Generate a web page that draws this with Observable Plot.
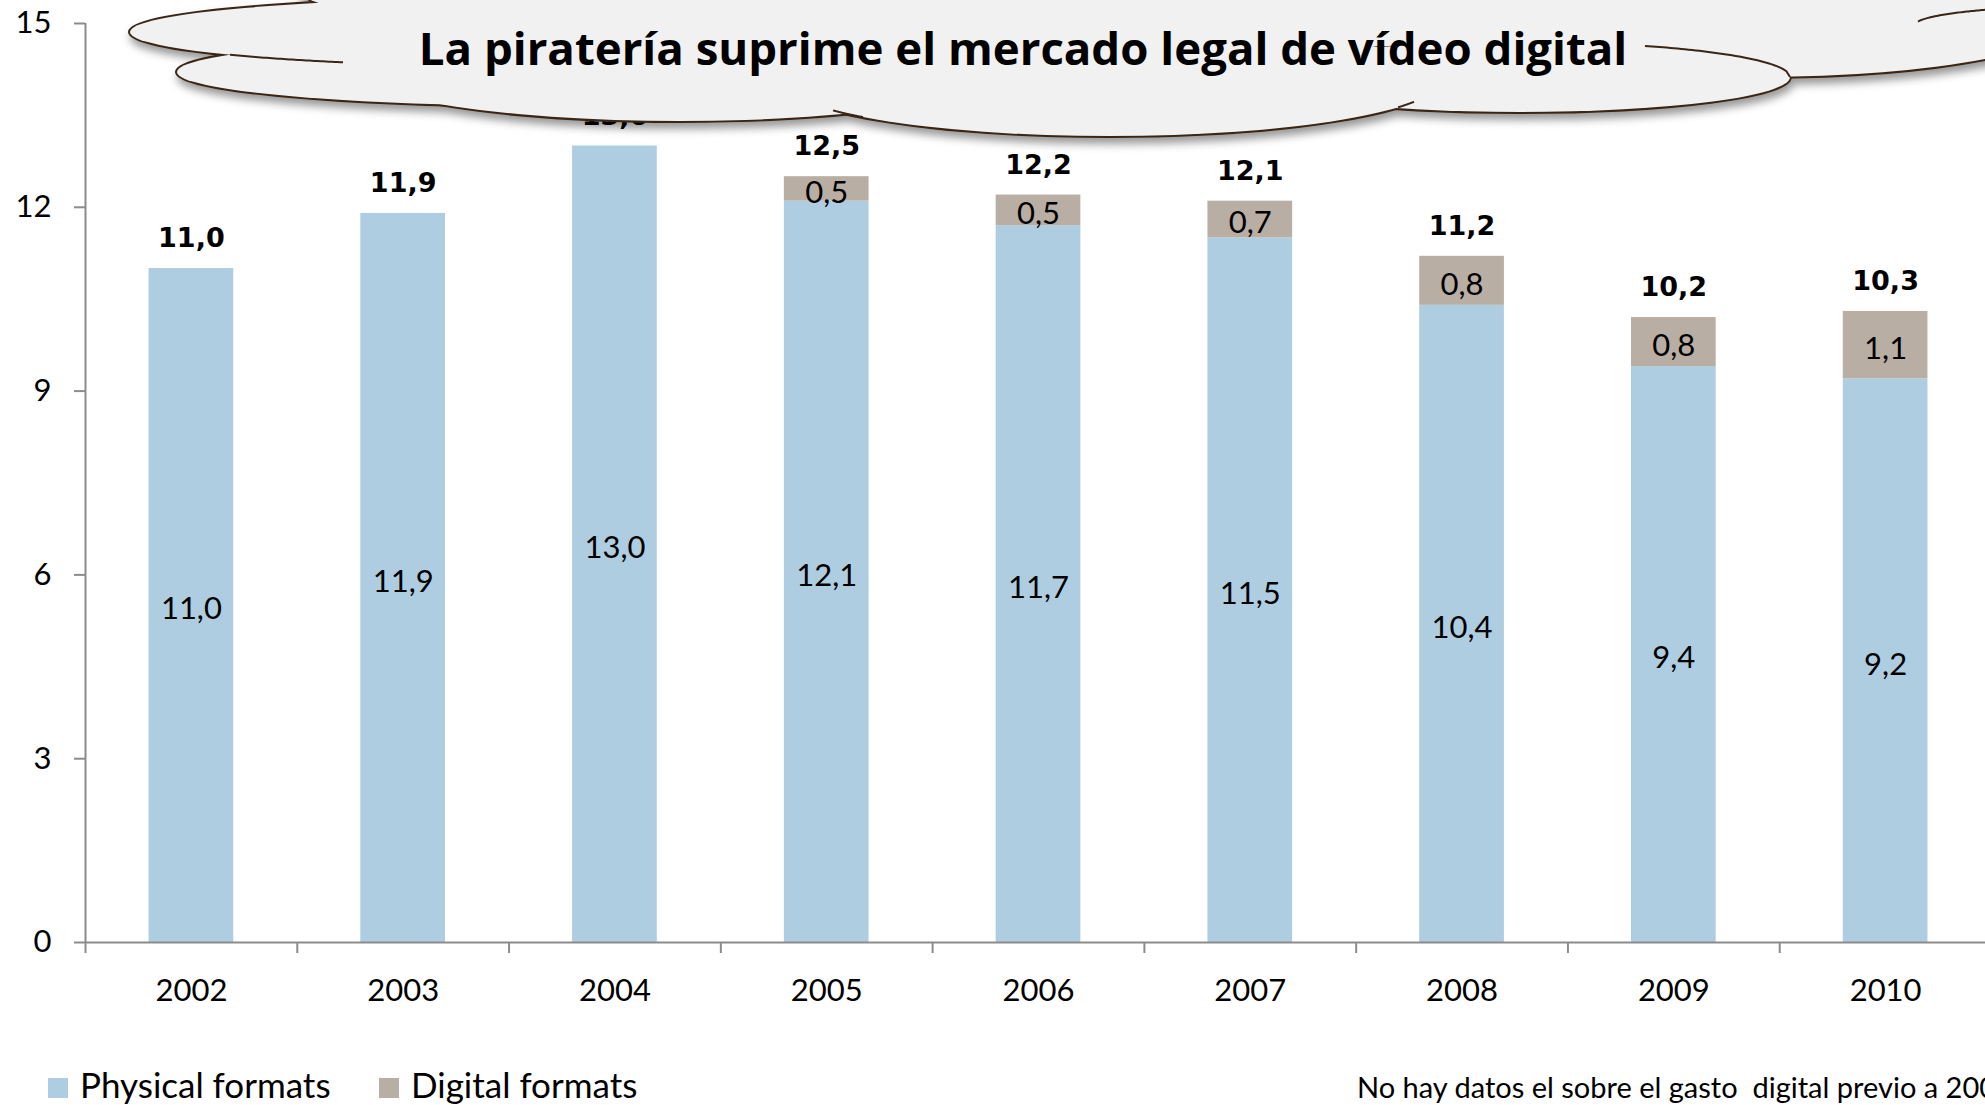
<!DOCTYPE html>
<html><head><meta charset="utf-8">
<script src="https://cdn.jsdelivr.net/npm/d3@7"></script>
<script src="https://cdn.jsdelivr.net/npm/@observablehq/plot@0.6"></script>
<style>
html,body{margin:0;padding:0;background:#fff;}
#wrap{position:relative;width:1985px;height:1105px;overflow:hidden;background:#fff;}
#wrap > *{position:absolute;left:0;}
</style></head><body><div id="wrap"></div>
<script>
// ---- data ----
const years = ["2002","2003","2004","2005","2006","2007","2008","2009","2010"];
const physical = [11.0, 11.9, 13.0, 12.1, 11.7, 11.5, 10.4, 9.4, 9.2];
const digital  = [null, null, null, 0.5, 0.5, 0.7, 0.8, 0.8, 1.1];
const totals   = [11.0, 11.9, 13.0, 12.5, 12.2, 12.1, 11.2, 10.2, 10.3];
const yTicks = [0, 3, 6, 9, 12, 15];
const seriesNames = ["Physical formats", "Digital formats"];
const seriesColors = ["#aecde0", "#b9aea3"];
const title = "La piratería suprime el mercado legal de vídeo digital";
const note = "No hay datos el sobre el gasto  digital previo a 2005";

const rows = years.map((year, i) => ({year, physical: physical[i], digital: digital[i], total: totals[i]}));
const digRows = rows.filter(d => d.digital != null);
const fmt = v => v.toFixed(1).replace(".", ",");

const W = 1985, H = 1022, mL = 85, mT = 23, mB = 80;
const xEnd = 1991;
const halfStep = (xEnd - mL) / years.length / 2;
const axisGrey = "#8c8c8c";
const wrap = document.getElementById("wrap");

const chart = Plot.plot({
  width: W, height: H, marginLeft: mL, marginRight: 0, marginTop: mT, marginBottom: mB,
  style: {fontFamily: "Lato", fontSize: "31px", color: "black", background: "white", overflow: "visible"},
  x: {domain: years, range: [mL, xEnd], paddingInner: 0.6, paddingOuter: 0.3, round: false, axis: null},
  y: {domain: [0, 15], axis: null},
  marks: [
    Plot.barY(rows, {x: "year", y1: 0, y2: "physical", fill: seriesColors[0]}),
    Plot.barY(digRows, {x: "year", y1: "physical", y2: "total", fill: seriesColors[1]}),
    Plot.ruleY([0], {stroke: axisGrey, strokeWidth: 2}),
    Plot.ruleX([years[0]], {x: d => d, y1: 0, y2: 15, dx: -halfStep, stroke: axisGrey, strokeWidth: 2}),
    Plot.axisY({ticks: yTicks, tickSize: 11, tickPadding: 23, stroke: axisGrey, strokeWidth: 2, fill: "black", label: null, tickFormat: d => String(d)}),
    Plot.axisX({ticks: years, tickSize: 11, tickFormat: () => "", dx: -halfStep, stroke: axisGrey, strokeWidth: 2, label: null}),
    Plot.axisX({ticks: years, tickSize: 0, tickPadding: 36, fill: "black", label: null}),
    Plot.text(rows, {x: "year", y: d => d.physical / 2, text: d => fmt(d.physical), dy: 4, fontSize: 31, fill: "black"}),
    Plot.text(digRows, {x: "year", y: d => (d.physical + d.total) / 2, text: d => fmt(d.digital), dy: 4, fontSize: 31, fill: "black"}),
    Plot.text(rows, {x: "year", y: "total", text: d => fmt(d.total), dy: -30, fontFamily: "DejaVu Sans", fontWeight: "bold", fontSize: 27, fill: "black"})
  ]
});
chart.style.top = "0px";
wrap.appendChild(chart);

// ---- cloud callout (decoration) ----
const lobes = [
  {cx: 520, cy: 32, rx: 390, ry: 34},
  {cx: 560, cy: 72, rx: 383, ry: 34},
  {cx: 680, cy: 65, rx: 336, ry: 56},
  {cx: 1110, cy: 80, rx: 330, ry: 56},
  {cx: 1520, cy: 77, rx: 270, ry: 35},
  {cx: 1760, cy: 15, rx: 320, ry: 62},
  {cx: 1100, cy: -10, rx: 800, ry: 60}
];
const innerArcs = [
  {l: lobes[0], x0: 230, x1: 343, side: 1},
  {l: lobes[3], x0: 833, x1: 863, side: 1},
  {l: lobes[3], x0: 1398, x1: 1414, side: 1},
  {l: lobes[4], x0: 1645, x1: 1790, side: -1},
  {l: {cx: 2115, cy: 25, rx: 200, ry: 20}, x0: 1918, x1: 1985, side: -1}
];
function arcPath(a) {
  const pts = [];
  for (let k = 0; k <= 40; k++) {
    const x = a.x0 + (a.x1 - a.x0) * k / 40;
    const u = Math.max(0, 1 - ((x - a.l.cx) / a.l.rx) ** 2);
    pts.push([x, a.l.cy + a.side * a.l.ry * Math.sqrt(u)]);
  }
  return d3.line()(pts);
}
const cloud = d3.create("svg").attr("width", W).attr("height", 170).style("top", "0px").style("overflow", "visible");
const defs = cloud.append("defs");
const f = defs.append("filter").attr("id", "sh").attr("x", "-10%").attr("y", "-50%").attr("width", "120%").attr("height", "200%");
f.append("feDropShadow").attr("dx", 2).attr("dy", 6).attr("stdDeviation", 4).attr("flood-color", "#000").attr("flood-opacity", 0.4);
const g = cloud.append("g").attr("filter", "url(#sh)");
const cloudFill = "#f1f1f1", cloudStroke = "#3a2618";
g.selectAll("ellipse.o").data(lobes).join("ellipse").attr("class", "o")
  .attr("cx", d => d.cx).attr("cy", d => d.cy).attr("rx", d => d.rx).attr("ry", d => d.ry)
  .attr("fill", cloudFill).attr("stroke", cloudStroke).attr("stroke-width", 4);
g.selectAll("ellipse.i").data(lobes).join("ellipse").attr("class", "i")
  .attr("cx", d => d.cx).attr("cy", d => d.cy).attr("rx", d => d.rx).attr("ry", d => d.ry)
  .attr("fill", cloudFill);
g.selectAll("path").data(innerArcs).join("path").attr("d", arcPath)
  .attr("fill", "none").attr("stroke", cloudStroke).attr("stroke-width", 2);
cloud.append("text").attr("x", 1023).attr("y", 65).attr("text-anchor", "middle")
  .attr("font-family", "Open Sans").attr("font-weight", "bold").attr("font-size", 45.6).attr("fill", "#000")
  .text(title);
wrap.appendChild(cloud.node());

// ---- legend & note ----
const bottom = d3.create("svg").attr("width", W).attr("height", 75).style("top", "1030px");
const legendX = [48, 379];
seriesNames.forEach((name, i) => {
  bottom.append("rect").attr("x", legendX[i]).attr("y", 48).attr("width", 20).attr("height", 20).attr("fill", seriesColors[i]);
  bottom.append("text").attr("x", legendX[i] + 32).attr("y", 68).attr("font-family", "Lato").attr("font-size", 35).attr("fill", "#000").text(name);
});
bottom.append("text").attr("x", 1357).attr("y", 68).attr("font-family", "Lato").attr("font-size", 29)
  .attr("fill", "#000").style("white-space", "pre").text(note);
wrap.appendChild(bottom.node());
</script></body></html>
